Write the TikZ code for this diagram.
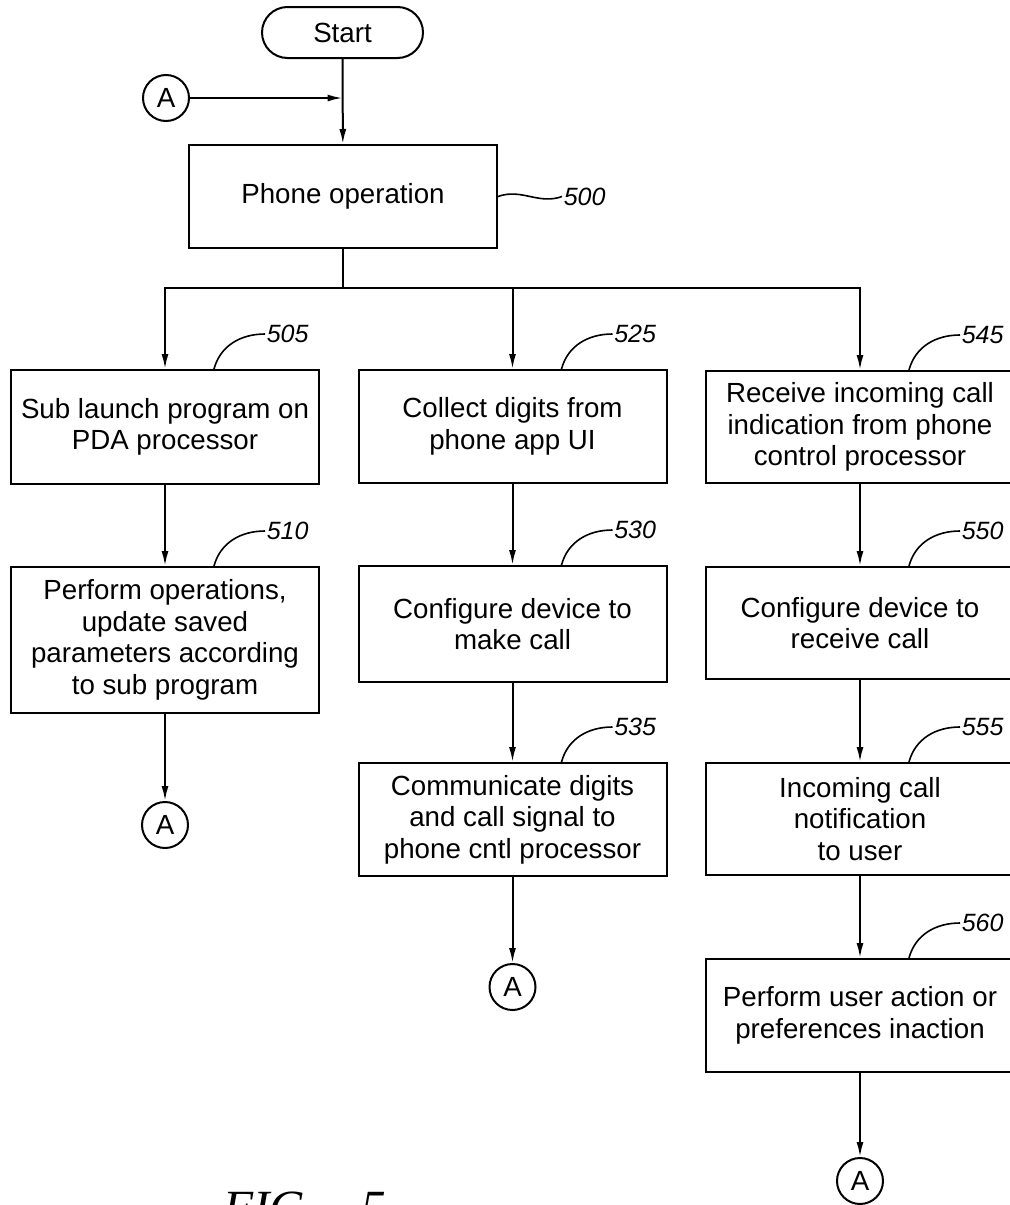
\documentclass[tikz,border=0pt]{standalone}
\usepackage{fontspec}
\setmainfont{Liberation Sans}
\newfontfamily\figserif{Liberation Serif}
\usetikzlibrary{arrows.meta}
\newcommand{\chartfont}{\fontsize{13.85pt}{15.8pt}\selectfont}
\newcommand{\refnumfont}{\fontsize{12.5pt}{14pt}\selectfont\itshape}
\tikzset{
  box/.style={draw, line width=1pt, align=center, minimum width=154pt, inner sep=2pt, font=\chartfont},
  term/.style={draw, line width=1pt, rounded corners=12.75pt, minimum width=80.5pt, minimum height=25.5pt, font=\chartfont},
  conn/.style={draw, circle, line width=1pt, minimum size=23pt, inner sep=0pt, font=\chartfont},
  flow/.style={line width=1pt, -{Latex[length=7.5pt,width=3.5pt]}},
  leader/.style={line width=0.8pt},
  reftext/.style={anchor=west, inner sep=0.5pt, font=\refnumfont},
}
\def\reflabel(#1)(#2){\draw[leader] (#1.north) ++(49,0) to[out=75,in=180] ++(51,35) node[reftext] {#2};}

\begin{document}
\begin{tikzpicture}[x=0.5pt, y=0.5pt]
			%%%%% START %%%%%
			\useasboundingbox (0,0) rectangle (1009,-1205);
			
			\node[term] (start) at (342.5,-32.5) {Start};
			\node[conn] (a0) at (166,-98) {A};
			\node[box, minimum height=51.5pt] (phone) at (343,-196.5) {Phone operation};
			
			% left column
			\node[box, minimum height=57pt] (sub) at (165,-427) {Sub launch program on\\PDA processor};
			\node[box, minimum height=73pt] (perf) at (165,-640) {Perform operations,\\update saved\\parameters according\\to sub program};
			\node[conn] (aL) at (165,-825) {A};
			
			% middle column
			\node[box, minimum height=56.5pt] (collect) at (512.5,-426.5) {Collect digits from\\phone app UI};
			\node[box, minimum height=58pt] (mkcall) at (512.5,-624) {Configure device to\\make call};
			\node[box, minimum height=56.5pt] (comm) at (512.5,-819.5) {Communicate digits\\and call signal to\\phone cntl processor};
			\node[conn] (aM) at (512.5,-987) {A};
			
			% right column
			\node[box, minimum height=56pt] (recv) at (860,-427) {Receive incoming call\\indication from phone\\control processor};
			\node[box, minimum height=56pt] (rxcall) at (860,-623) {Configure device to\\receive call};
			\node[box, minimum height=56pt] (notify) at (860,-819) {Incoming call\\notification\\to user};
			\node[box, minimum height=56.5pt] (action) at (860,-1015.5) {Perform user action or\\preferences inaction};
			\node[conn] (aR) at (860,-1181) {A};
			
			\draw[flow] (start) -- (phone);
			\draw[flow] (a0) -- (a0 -| start);
			
			\coordinate (split) at (343,-288);
			\draw[line width=1pt] (phone) -- (split);
			\draw[flow] (split) -| (sub);
			\draw[flow] (split) -| (collect);
			\draw[flow] (split) -| (recv);
			
			\draw[flow] (sub) -- (perf);
			\draw[flow] (perf) -- (aL);
			\draw[flow] (collect) -- (mkcall);
			\draw[flow] (mkcall) -- (comm);
			\draw[flow] (comm) -- (aM);
			\draw[flow] (recv) -- (rxcall);
			\draw[flow] (rxcall) -- (notify);
			\draw[flow] (notify) -- (action);
			\draw[flow] (action) -- (aR);
			
			\draw[leader] (phone.east) to[out=20,in=200] ++(64,0) node[reftext] {500};
			\reflabel(sub)(505)
			\reflabel(perf)(510)
			\reflabel(collect)(525)
			\reflabel(mkcall)(530)
			\reflabel(comm)(535)
			\reflabel(recv)(545)
			\reflabel(rxcall)(550)
			\reflabel(notify)(555)
			\reflabel(action)(560)
			
			\node[anchor=base west, inner sep=0pt, font=\figserif\fontsize{24.6pt}{28pt}\selectfont\itshape] (fig) at (223,-1224) {FIG.\hspace{0.9em}5};
			
			%%%%% END %%%%%
\end{tikzpicture}
\end{document}
